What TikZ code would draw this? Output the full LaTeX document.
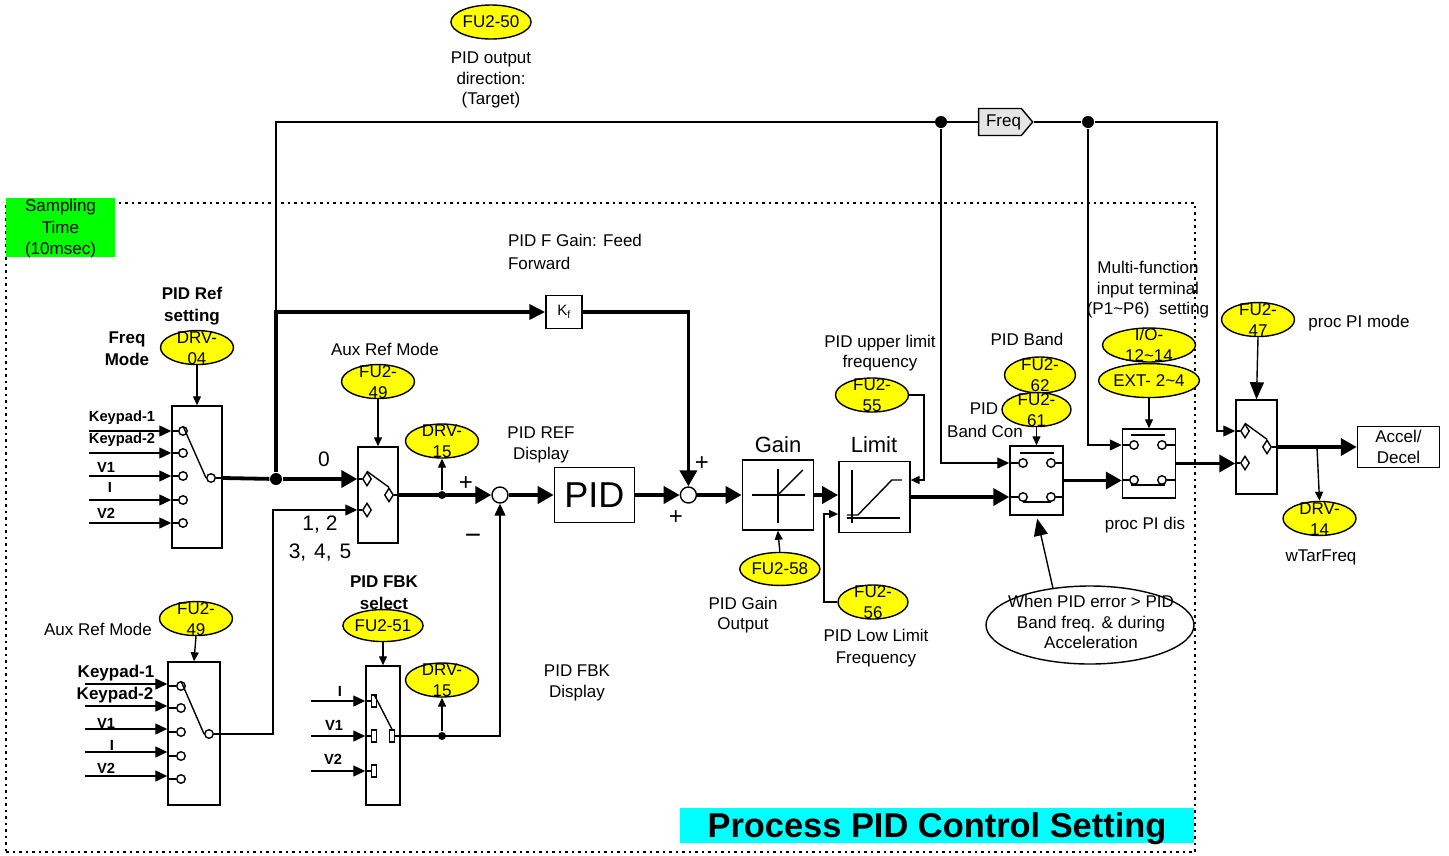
\documentclass[tikz,border=0pt]{standalone}
\usepackage{fontspec}
\setmainfont{Liberation Sans}
\usetikzlibrary{arrows.meta,positioning,shapes.geometric,shapes.symbols}
\definecolor{sampgreen}{RGB}{0,255,0}
\definecolor{titlecyan}{RGB}{0,255,255}
\definecolor{bubyellow}{RGB}{255,255,0}
\newcommand{\bub}[2]{\smash{\raisebox{-6.5pt}{\begin{tabular}{@{}c@{}}#1\\#2\end{tabular}}}}
\begin{document}
\begin{tikzpicture}[x=1pt,y=-1pt,line width=1.4pt,node distance=5pt,
  plain/.style={font=\fontsize{17}{20.5}\selectfont,align=center,inner sep=0pt},
  txt/.style={plain,yshift=-2pt},
  boldtxt/.style={font=\fontsize{17}{22}\bfseries\selectfont,align=center,inner sep=0pt,yshift=-2pt},
  tagtxt/.style={font=\fontsize{14.7}{18}\bfseries\selectfont,inner sep=0pt,yshift=-2pt},
  bigtxt/.style={font=\fontsize{21}{28}\selectfont,align=center,inner sep=0pt,yshift=-2pt},
  block/.style={draw,inner sep=0pt,line width=1.5pt},
  bubble/.style={ellipse,draw,fill=bubyellow,inner sep=0pt,minimum width=73pt,minimum height=34pt,font=\fontsize{17}{21}\selectfont},
  contact/.style={circle,draw,fill=white,inner sep=0pt,minimum size=8.5pt},
  rhomb/.style={diamond,draw,fill=white,inner sep=0pt,minimum width=9pt,minimum height=14pt},
  slot/.style={rectangle,draw,fill=white,inner sep=0pt,minimum width=4.5pt,minimum height=12pt},
  summer/.style={circle,draw,fill=white,inner sep=0pt,minimum size=16pt},
  bigdot/.style={circle,fill=black,inner sep=0pt,minimum size=12pt},
  smalldot/.style={circle,fill=black,inner sep=0pt,minimum size=8pt},
  smallarr/.style={-{Triangle[length=9pt,width=8pt]}},
  inarr/.style={-{Triangle[length=12pt,width=11pt]}},
  bigarr/.style={-{Triangle[length=17pt,width=14pt]}},
  mainarr/.style={line width=3.8pt,-{Triangle[length=16pt,width=17pt]}},
  heavy/.style={line width=3.8pt}]
\useasboundingbox (0,0) rectangle (1449,855);
\node[draw,line width=1.6pt,dash pattern=on 2.5pt off 4pt,minimum width=1189pt,minimum height=649pt,inner sep=0pt] (frame) at (600.5,527.5) {};
\node[fill=sampgreen,minimum width=109pt,minimum height=59pt,inner sep=0pt] (sampling) at (60.5,227.5) {};
\node[plain,font=\fontsize{17}{21.5}\selectfont] (samptxt) at (60.5,229) {Sampling\\Time\\(10msec)};
\node[fill=titlecyan,minimum width=514pt,minimum height=35pt,inner sep=0pt,font=\fontsize{34.4}{40}\bfseries\selectfont] (title) at (937,825.5) {\raisebox{-11.5pt}[0pt][0pt]{Process PID Control Setting}};

\node[block,minimum width=50pt,minimum height=142pt] (swref) at (197,477) {};
\node[block,minimum width=40pt,minimum height=96pt] (swaux) at (378,495) {};
\node[block,minimum width=52pt,minimum height=143pt] (swsel) at (194,733.5) {};
\node[block,minimum width=34pt,minimum height=139pt] (swfbk) at (383,735.5) {};
\node[summer] (sumref) at (500,495) {};
\node[block,right=45pt of sumref,minimum width=80pt,minimum height=55pt,font=\fontsize{36}{40}\selectfont] (pid) {PID};
\node[summer,right=44.5pt of pid] (sumout) {};
\node[block,right=44.5pt of sumout,minimum width=71pt,minimum height=70pt] (gain) {};
\node[block,right=24pt of gain,yshift=-2pt,minimum width=71pt,minimum height=71pt] (limit) {};
\node[block,minimum width=53pt,minimum height=69pt] (swband) at (1036.5,480.5) {};
\node[block,right=58pt of swband,yshift=17pt,minimum width=53pt,minimum height=69pt] (swdis) {};
\node[block,right=59pt of swdis,yshift=16.5pt,minimum width=41pt,minimum height=94pt] (swpi) {};
\node[block,right=79pt of swpi,minimum width=82pt,minimum height=41pt,plain] (accel) {Accel/\\Decel};
\node[block,minimum width=36pt,minimum height=33pt,font=\fontsize{15}{18}\selectfont] (kf) at (564,312) {K\textsubscript{f}};
\node[draw,fill=black!10,signal,signal to=east,signal pointer angle=100,minimum width=54pt,minimum height=27pt,inner sep=0pt,font=\fontsize{17}{18}\selectfont] (freq) at (1000,122) {\hspace{7pt}Freq};

\node[bubble,minimum width=80pt] (fufifty) at (491,22) {FU2-50};
\node[bubble,above=40pt of swref] (drvfour) {\bub{DRV-}{04}};
\node[bubble,above=47pt of swaux] (fuauxa) {\bub{FU2-}{49}};
\node[bubble] (drvrefa) at (442,441) {\bub{DRV-}{15}};
\node[bubble,above=25pt of swsel,xshift=2pt] (fuauxb) {\bub{FU2-}{49}};
\node[bubble,above=23pt of swfbk,minimum width=78pt,minimum height=32pt] (fufbk) {FU2-51};
\node[bubble] (drvrefb) at (442,680) {\bub{DRV-}{15}};
\node[bubble,below=21pt of gain,xshift=2pt,minimum width=75pt,minimum height=33pt] (fugain) {FU2-58};
\node[bubble] (fuup) at (872,395) {\bub{FU2-}{55}};
\node[bubble,minimum width=70pt] (fulow) at (873,602) {\bub{FU2-}{56}};
\node[bubble,minimum width=71pt,minimum height=36pt] (fuband) at (1040,375) {\bub{FU2-}{62}};
\node[bubble,above=18pt of swband,minimum width=69pt] (fucon) {\bub{FU2-}{61}};
\node[bubble,above=30pt of swdis,minimum width=96pt] (fuext) {EXT- 2\textasciitilde 4};
\node[bubble,minimum width=93pt] (iosel) at (1149,345) {\bub{I/O-}{12\textasciitilde 14}};
\node[bubble,above=62pt of swpi,xshift=1.5pt] (fumode) {\bub{FU2-}{47}};
\node[bubble,below=6pt of swpi,xshift=63pt] (drvtar) {\bub{DRV-}{14}};
\node[ellipse,draw,fill=white,inner sep=0pt,minimum width=208pt,minimum height=78pt] (accnote) at (1090,625) {};
\node[plain] (accnotetxt) at (1091,622) {When PID error > PID\\Band freq. \& during\\Acceleration};

\node[bigdot] (jmain) at (276,479) {};
\node[smalldot] (jaux) at (442,495) {};
\node[smalldot] (jfbk) at (442,736) {};
\node[bigdot] (jfa) at (941,122) {};
\node[bigdot] (jfb) at (1088,122) {};

\node[contact] (crefa) at (183,431) {};
\node[contact] (crefb) at (183,453) {};
\node[contact] (crefc) at (183,476) {};
\node[contact] (crefd) at (183,500) {};
\node[contact] (crefe) at (183,523) {};
\node[contact] (crefo) at (211,478) {};
\node[rhomb] (cauxa) at (367,479) {};
\node[rhomb] (cauxb) at (367,510) {};
\node[rhomb] (cauxo) at (389,495) {};
\node[contact] (csela) at (181,686) {};
\node[contact] (cselb) at (181,708) {};
\node[contact] (cselc) at (181,732) {};
\node[contact] (cseld) at (181,756) {};
\node[contact] (csele) at (181,779) {};
\node[contact] (cselo) at (209,734) {};
\node[slot] (cfbka) at (374,701) {};
\node[slot] (cfbkb) at (374,736) {};
\node[slot] (cfbkc) at (374,771) {};
\node[slot] (cfbko) at (392,736) {};
\node[contact] (cbanda) at (1023,463) {};
\node[contact] (cbandb) at (1051,463) {};
\node[contact] (cbandc) at (1023,497) {};
\node[contact] (cbandd) at (1051,497) {};
\node[contact] (cdisa) at (1134,445) {};
\node[contact] (cdisb) at (1162,445) {};
\node[contact] (cdisc) at (1134,480) {};
\node[contact] (cdisd) at (1162,480) {};
\node[rhomb] (cpia) at (1245,431) {};
\node[rhomb] (cpib) at (1245,463) {};
\node[rhomb] (cpio) at (1267,447) {};

\coordinate (inrefa) at (89,431);
\coordinate (inrefb) at (89,453);
\coordinate (inrefc) at (89,476);
\coordinate (inrefd) at (89,500);
\coordinate (inrefe) at (89,523);
\coordinate (inselA) at (85,684);
\coordinate (inselb) at (85,706);
\coordinate (inselc) at (85,729);
\coordinate (inseld) at (85,752);
\coordinate (insele) at (85,776);
\coordinate (infbka) at (311,701);
\coordinate (infbkb) at (311,736);
\coordinate (infbkc) at (311,771);
\coordinate (auxbend) at (273,510);
\coordinate (upbend) at (924,480);
\coordinate (lowbend) at (824,514);
\coordinate (pibend) at (1217,431);
\coordinate (taptar) at (1317,447);

\draw[inarr] (inrefa) -- (inrefa-|swref.west);
\draw[inarr] (inrefb) -- (inrefb-|swref.west);
\draw[inarr] (inrefc) -- (inrefc-|swref.west);
\draw[inarr] (inrefd) -- (inrefd-|swref.west);
\draw[inarr] (inrefe) -- (inrefe-|swref.west);
\draw (crefa-|swref.west) -- (crefa);
\draw (crefb-|swref.west) -- (crefb);
\draw (crefc-|swref.west) -- (crefc);
\draw (crefd-|swref.west) -- (crefd);
\draw (crefe-|swref.west) -- (crefe);
\draw (crefa.north) -- (crefo.west);
\draw (crefo) -- (crefo-|swref.east);
\draw[heavy] (crefo-|swref.east) -- (jmain);
\draw[mainarr] (jmain) -- (jmain-|swaux.west);
\draw (cauxa-|swaux.west) -- (cauxa);
\draw (cauxb-|swaux.west) -- (cauxb);
\draw (cauxa.north) -- (cauxo.north);
\draw (cauxo) -- (swaux.east);
\draw[mainarr] (swaux.east) -- (sumref.west);

\draw[inarr] (inselA) -- (inselA-|swsel.west);
\draw[inarr] (inselb) -- (inselb-|swsel.west);
\draw[inarr] (inselc) -- (inselc-|swsel.west);
\draw[inarr] (inseld) -- (inseld-|swsel.west);
\draw[inarr] (insele) -- (insele-|swsel.west);
\draw (csela-|swsel.west) -- (csela);
\draw (cselb-|swsel.west) -- (cselb);
\draw (cselc-|swsel.west) -- (cselc);
\draw (cseld-|swsel.west) -- (cseld);
\draw (csele-|swsel.west) -- (csele);
\draw (csela.north) -- (cselo.west);
\draw[inarr] (cselo) -| (auxbend) -- (auxbend-|swaux.west);

\draw[inarr] (infbka) -- (infbka-|swfbk.west);
\draw[inarr] (infbkb) -- (infbkb-|swfbk.west);
\draw[inarr] (infbkc) -- (infbkc-|swfbk.west);
\draw (cfbka-|swfbk.west) -- (cfbka);
\draw (cfbkb-|swfbk.west) -- (cfbkb);
\draw (cfbkc-|swfbk.west) -- (cfbkc);
\draw (cfbka.north) -- (cfbko.north);
\draw[inarr] (cfbko) -| (sumref.south);

\draw (jmain) |- (freq.west);
\draw[heavy,-{Triangle[length=16pt,width=15pt]}] (jmain) |- (kf.west);
\draw[mainarr] (kf.east) -| (sumout.north);
\draw[mainarr] (sumref.east) -- (pid.west);
\draw[mainarr] (pid.east) -- (sumout.west);
\draw[mainarr] (sumout.east) -- (gain.west);
\draw[mainarr] (gain.east) -- (gain.east-|limit.west);
\draw[mainarr] (limit.east) -- (limit.east-|swband.west);
\draw[mainarr] (swband.east) -- (swband.east-|swdis.west);
\draw[mainarr] (swdis.east) -- (swdis.east-|swpi.west);
\draw[mainarr] (swpi.east) -- (accel.west);

\draw (freq.east) -- (jfb);
\draw[inarr] (jfa) |- (cbanda-|swband.west);
\draw[inarr] (jfb) |- (cdisa-|swdis.west);
\draw[inarr] (jfb) -| (pibend) -- (pibend-|swpi.west);

\draw (cbanda-|swband.west) -- (cbanda);
\draw (cbandb) -- (cbandb-|swband.east);
\draw (cbandc-|swband.west) -- (cbandc);
\draw (cbandd) -- (cbandd-|swband.east);
\draw ([shift={(-3pt,5pt)}]cbanda.north) -- ([shift={(3pt,5pt)}]cbandb.north);
\draw (cbandc.south) -- (cbandd.south);
\draw (cdisa-|swdis.west) -- (cdisa);
\draw (cdisb) -- (cdisb-|swdis.east);
\draw (cdisc-|swdis.west) -- (cdisc);
\draw (cdisd) -- (cdisd-|swdis.east);
\draw ([shift={(-3pt,5pt)}]cdisa.north) -- ([shift={(3pt,5pt)}]cdisb.north);
\draw ([xshift=-3pt]cdisc.south) -- ([xshift=3pt]cdisd.south);
\draw (cpia-|swpi.west) -- (cpia);
\draw (cpib-|swpi.west) -- (cpib);
\draw (cpia.north) -- (cpio.north);
\draw (cpio) -- (cpio-|swpi.east);

\draw[smallarr] (drvfour.south) -- (swref.north);
\draw[smallarr] (fuauxa.south) -- (swaux.north);
\draw[smallarr] (jaux) -- (drvrefa.south);
\draw[smallarr] (fuauxb.south) -- (swsel.north);
\draw[smallarr] (fufbk.south) -- (swfbk.north);
\draw[smallarr] (jfbk) -- (drvrefb.south);
\draw[smallarr] (fugain.north) -- (gain.south);
\draw[smallarr] (fuup.east) -| (upbend) -- (upbend-|limit.east);
\draw[smallarr] (fulow.west) -| (lowbend) -- (lowbend-|limit.west);
\draw[smallarr] (fucon.south) -- (swband.north);
\draw[smallarr] (fuext.south) -- (swdis.north);
\draw[bigarr] (fumode.south) -- (swpi.north);
\draw[smallarr] (taptar) -- (drvtar.north);
\draw[bigarr,shorten >=3pt] (accnote.135) -- (swband.south);

\begin{scope}[shift={(gain.center)}]
\draw (-26,0) -- (27,0);
\draw (0,-26) -- (0,28);
\draw (0,0) -- (25,-25);
\end{scope}
\begin{scope}[shift={(limit.center)}]
\draw (-22.5,-27) -- (-22.5,26);
\draw (-27.5,21) -- (25.5,21);
\draw (-27.5,18) -- (-16.5,18) -- (17.5,-17) -- (27.5,-17);
\end{scope}

\node[txt] (outdir) at (491,78) {PID output\\direction:\\(Target)};
\node[txt,align=left,font=\fontsize{17}{23}\selectfont] (ffgain) at (575,249.5) {PID F Gain: Feed\\Forward};
\node[boldtxt] (refset) at (192,304.5) {PID Ref\\setting};
\node[boldtxt] (freqmode) at (127,347) {Freq\\Mode};
\node[txt] (auxmodea) at (385,347) {Aux Ref Mode};
\node[txt] (auxmodeb) at (98,627) {Aux Ref Mode};
\node[bigtxt] (auxzero) at (324,457) {0};
\node[bigtxt] (auxrest) at (320,537) {1, 2\\3,\hspace{2pt} 4,\hspace{2pt} 5};
\node[txt] (refdisp) at (541,443) {PID REF\\Display};
\node[txt] (fbkdisp) at (577,681) {PID FBK\\Display};
\node[boldtxt] (fbksel) at (384,591) {PID FBK\\select};
\node[bigtxt,font=\fontsize{24}{28}\selectfont] (plusa) at (466,482) {+};
\node[bigtxt,font=\fontsize{28}{28}\selectfont] (minusa) at (473,537) {\textminus};
\node[bigtxt,font=\fontsize{24}{28}\selectfont] (plusb) at (702,462) {+};
\node[bigtxt,font=\fontsize{24}{28}\selectfont] (plusc) at (676,516) {+};
\node[bigtxt,font=\fontsize{22}{26}\selectfont] (gainlbl) at (778,443) {Gain};
\node[bigtxt,font=\fontsize{22}{26}\selectfont] (limitlbl) at (874,443) {Limit};
\node[txt] (upfreq) at (880,351) {PID upper limit\\frequency};
\node[txt] (gainout) at (743,613) {PID Gain\\Output};
\node[txt,font=\fontsize{17}{22}\selectfont] (lowfreq) at (876,646) {PID Low Limit\\Frequency};
\node[txt] (bandlbl) at (1027,337) {PID Band};
\node[txt] (bandpid) at (984,407) {PID};
\node[txt] (bandcon) at (985,429) {Band Con};
\node[txt] (multifn) at (1148,288) {Multi-function\\input terminal\\(P1\textasciitilde P6)\ \ setting};
\node[txt] (pimode) at (1359,321) {proc PI mode};
\node[txt] (pidis) at (1145,523) {proc PI dis};
\node[txt] (tarfreq) at (1321,555) {wTarFreq};

\node[tagtxt] (tagrefa) at (122,416) {Keypad-1};
\node[tagtxt] (tagrefb) at (122,438) {Keypad-2};
\node[tagtxt] (tagrefc) at (106,465) {V1};
\node[tagtxt] (tagrefd) at (110,485) {I};
\node[tagtxt] (tagrefe) at (106,511) {V2};
\node[boldtxt] (tagsela) at (116,671) {Keypad-1};
\node[boldtxt] (tagselb) at (115,693) {Keypad-2};
\node[tagtxt] (tagselc) at (106,721) {V1};
\node[tagtxt] (tagseld) at (112,743) {I};
\node[tagtxt] (tagsele) at (106,766) {V2};
\node[tagtxt] (tagfbka) at (340,689) {I};
\node[tagtxt] (tagfbkb) at (334,723) {V1};
\node[tagtxt] (tagfbkc) at (333,757) {V2};
\end{tikzpicture}
\end{document}
